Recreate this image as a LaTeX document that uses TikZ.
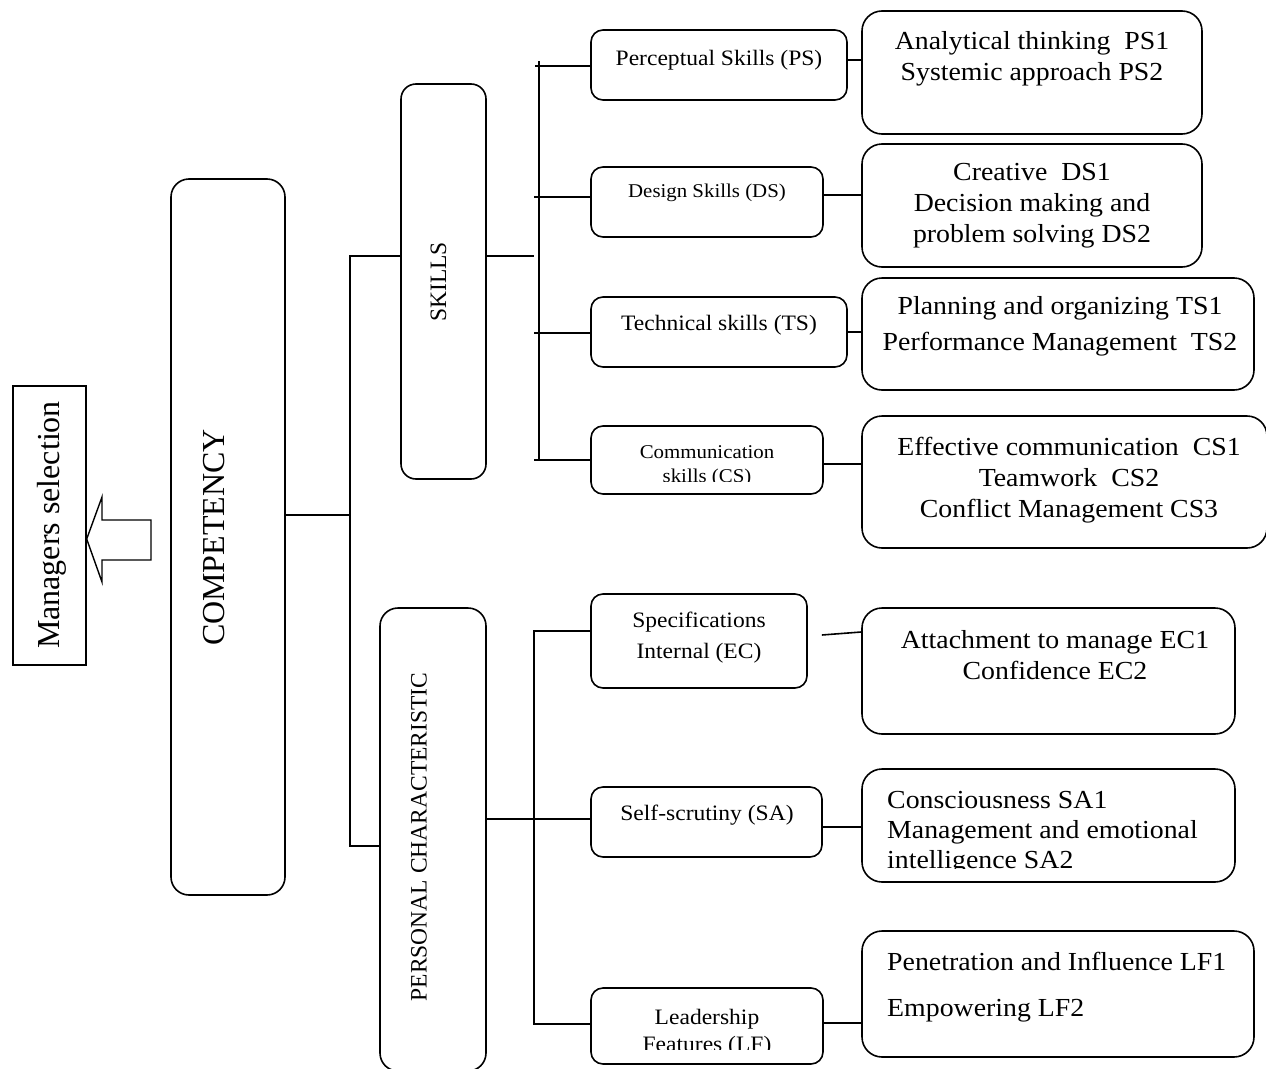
\documentclass[tikz,border=0pt]{standalone}
\usepackage{fontspec}
\setmainfont{Liberation Serif}
\newfontfamily\hf[FakeStretch=1.07]{Liberation Serif}
\begin{document}
\begin{tikzpicture}[x=1pt,y=-1pt]
\tikzset{
  bx/.style={draw, line width=1.6pt, rounded corners=12pt, inner sep=0pt},
  rbx/.style={bx, rounded corners=20pt},
  ln/.style={line width=1.6pt},
  rtxt/.style={font=\hf\fontsize{26}{31}\selectfont, align=center, inner sep=0pt},
  stxt/.style={font=\hf\fontsize{22}{26}\selectfont, align=center, inner sep=0pt},
  sstxt/.style={font=\hf\fontsize{19.5}{24}\selectfont, align=center, inner sep=0pt},
  vtxt/.style={rotate=90, inner sep=0pt},
}
\useasboundingbox (0,0) rectangle (1266,1068);

% left part
\node[draw, line width=1.4pt, minimum width=73pt, minimum height=279pt, inner sep=0pt] (msel) at (49.5,525.5) {};
\node[vtxt, font=\fontsize{32}{38}\selectfont] (tmsel) at (52,525) {Managers selection};
\draw[line width=1.4pt] (msel.east |- 0,539) -- (102,497) -- (102,520) -- (151,520) -- (151,560) -- (102,560) -- (102,582) -- cycle;

\node[bx, rounded corners=18pt, minimum width=114pt, minimum height=716pt] (comp) at (228,537) {};
\node[vtxt, font=\fontsize{32}{38}\selectfont] (tcomp) at (214,537.5) {COMPETENCY};

\node[bx, rounded corners=15pt, minimum width=85pt, minimum height=395pt] (skills) at (443.5,281.5) {};
\node[vtxt, font=\fontsize{23.5}{28}\selectfont] (tskills) at (438.5,282) {SKILLS};

\node[bx, rounded corners=18pt, minimum width=106pt, minimum height=463pt] (pers) at (433,839.5) {};
\node[vtxt, font=\fontsize{23.5}{28}\selectfont] (tpers) at (419,837) {PERSONAL CHARACTERISTIC};

% middle boxes
\node[bx, minimum width=256pt, minimum height=70pt] (ps) at (719,65) {};
\node[bx, minimum width=232pt, minimum height=70pt] (ds) at (707,202) {};
\node[bx, minimum width=256pt, minimum height=70pt] (ts) at (719,332) {};
\node[bx, minimum width=232pt, minimum height=68pt] (cs) at (707,460) {};
\node[bx, minimum width=216pt, minimum height=94pt] (ec) at (699,641) {};
\node[bx, minimum width=231pt, minimum height=70pt] (sa) at (706.5,822) {};
\node[bx, minimum width=232pt, minimum height=76pt] (lf) at (707,1026) {};

\node[stxt] (tps) at (719,60) {Perceptual Skills (PS)};
\node[sstxt] (tds) at (707,193) {Design Skills (DS)};
\node[stxt] (tts) at (719,325) {Technical skills (TS)};
\begin{scope}
  \clip (591,420) rectangle (823,481);
  \node[sstxt] (tcs) at (707,466) {Communication\\skills (CS)};
\end{scope}
\node[stxt, font=\hf\fontsize{22}{31}\selectfont] (tec) at (699,637.5) {Specifications\\Internal (EC)};
\node[stxt] (tsa) at (707,815) {Self-scrutiny (SA)};
\begin{scope}
  \clip (591,985) rectangle (823,1049);
  \node[stxt, font=\hf\fontsize{22}{27}\selectfont] (tlf) at (707,1033) {Leadership\\Features (LF)};
\end{scope}

% right boxes
\node[rbx, minimum width=340pt, minimum height=123pt] (rps) at (1032,72.5) {};
\node[rbx, minimum width=340pt, minimum height=123pt] (rds) at (1032,205.5) {};
\node[rbx, minimum width=392pt, minimum height=112pt] (rts) at (1058,334) {};
\node[rbx, minimum width=405pt, minimum height=132pt] (rcs) at (1064.5,482) {};
\node[rbx, minimum width=373pt, minimum height=126pt] (rec) at (1048.5,671) {};
\node[rbx, minimum width=373pt, minimum height=113pt] (rsa) at (1048.5,825.5) {};
\node[rbx, minimum width=392pt, minimum height=126pt] (rlf) at (1058,994) {};

\node[rtxt] (trps) at (1032,59) {Analytical thinking~ PS1\\Systemic approach PS2};
\node[rtxt] (trds) at (1032,206) {Creative~ DS1\\Decision making and\\problem solving DS2};
\node[rtxt, font=\hf\fontsize{26}{36}\selectfont] (trts) at (1060,326) {Planning and organizing TS1\\Performance Management~ TS2};
\node[rtxt] (trcs) at (1069,480.5) {Effective communication~ CS1\\Teamwork~ CS2\\Conflict Management CS3};
\node[rtxt] (trec) at (1055,655.5) {Attachment to manage EC1\\Confidence EC2};
\begin{scope}
  \clip (862,769) rectangle (1235,868);
  \node[rtxt, align=left, anchor=west, font=\hf\fontsize{26}{30}\selectfont] (trsa) at (887,833) {Consciousness SA1\\Management and emotional\\intelligence SA2};
\end{scope}
\node[rtxt, align=left, anchor=west, font=\hf\fontsize{26}{46}\selectfont] (trlf) at (887,987) {Penetration and Influence LF1\\Empowering LF2};

% trunk connectors
\coordinate (jc) at (350,515);
\coordinate (js) at (350,256);
\coordinate (jp) at (350,846);
\draw[ln] (comp.east |- jc) -- (jc);
\draw[ln] (js -| skills.west) -- (js) -- (jp) -- (jp -| pers.west);

% skills branch
\coordinate (sk) at (534,256);
\coordinate (vt) at (539,61);
\coordinate (vb) at (539,460);
\coordinate (tp) at (535,66);
\coordinate (td) at (534,197);
\coordinate (tt) at (534,333);
\coordinate (tc) at (534,460);
\draw[ln] (skills.east |- sk) -- (sk);
\draw[ln] (vt) -- (vb);
\draw[ln] (tp) -- (tp -| ps.west);
\draw[ln] (td) -- (td -| ds.west);
\draw[ln] (tt) -- (tt -| ts.west);
\draw[ln] (tc) -- (tc -| cs.west);

% personal branch
\coordinate (pt) at (534,631);
\coordinate (pb) at (534,1024);
\coordinate (pm) at (534,819);
\draw[ln] (pt -| ec.west) -- (pt) -- (pb) -- (pb -| lf.west);
\draw[ln] (pers.east |- pm) -- (pm -| sa.west);

% middle to right
\coordinate (cps) at ([yshift=5pt]ps.east);
\coordinate (cds) at ([yshift=7pt]ds.east);
\coordinate (cts) at (ts.east);
\coordinate (ccs) at ([yshift=-4pt]cs.east);
\coordinate (cec) at ([xshift=14pt,yshift=6pt]ec.east);
\coordinate (cec2) at ([yshift=39pt]rec.west);
\coordinate (csa) at ([yshift=-5pt]sa.east);
\coordinate (clf) at ([yshift=3pt]lf.east);
\draw[ln] (cps) -- (cps -| rps.west);
\draw[ln] (cds) -- (cds -| rds.west);
\draw[ln] (cts) -- (cts -| rts.west);
\draw[ln] (ccs) -- (ccs -| rcs.west);
\draw[ln] (cec) -- (cec2);
\draw[ln] (csa) -- (csa -| rsa.west);
\draw[ln] (clf) -- (clf -| rlf.west);
\end{tikzpicture}
\end{document}
